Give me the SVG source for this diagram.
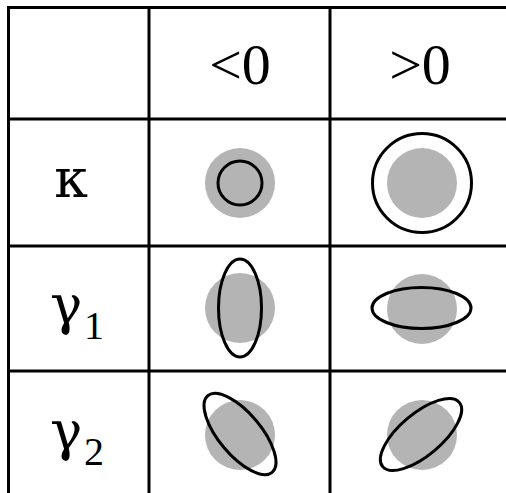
<svg xmlns="http://www.w3.org/2000/svg" width="506" height="493" viewBox="0 0 506 493">
<style>
.grid{stroke:#000;stroke-width:3;fill:none}
.disc{fill:#b4b4b4}
.ring{fill:none;stroke:#000;stroke-width:3}
.lbl{font-family:"Liberation Serif","Times New Roman",serif;fill:#000}
.hdr{font-size:58px;text-anchor:middle}
.grk{font-family:"DejaVu Serif","Liberation Serif",serif;font-size:54px}
.sub{font-family:"Liberation Serif","Times New Roman",serif;font-size:40px}
</style>
<rect width="506" height="493" fill="#fff"/>
<g id="grid">
<line class="grid" x1="7" y1="7.5" x2="506" y2="7.5"/>
<line class="grid" x1="8.5" y1="6" x2="8.5" y2="493"/>
<line class="grid" x1="149" y1="6" x2="149" y2="493"/>
<line class="grid" x1="330" y1="6" x2="330" y2="493"/>
<line class="grid" x1="7" y1="119" x2="506" y2="119"/>
<line class="grid" x1="7" y1="246" x2="506" y2="246"/>
<line class="grid" x1="7" y1="371" x2="506" y2="371"/>
</g>
<g id="header-neg"><text class="lbl hdr" x="240" y="84">&lt;0</text></g>
<g id="header-pos"><text class="lbl hdr" x="420" y="84">&gt;0</text></g>
<g id="label-kappa"><text class="lbl grk" x="71" y="197" text-anchor="middle">κ</text></g>
<g id="label-gamma1"><text class="lbl grk" x="50" y="324">γ<tspan class="sub" x="84" y="339">1</tspan></text></g>
<g id="label-gamma2"><text class="lbl grk" x="50" y="450">γ<tspan class="sub" x="84" y="465">2</tspan></text></g>
<g id="kappa-neg">
<circle class="disc" cx="240" cy="183" r="35"/>
<circle class="ring" cx="240" cy="183" r="22"/>
</g>
<g id="kappa-pos">
<circle class="disc" cx="422" cy="183" r="35"/>
<circle class="ring" cx="422" cy="183" r="49.5"/>
</g>
<g id="gamma1-neg">
<circle class="disc" cx="240" cy="308" r="35"/>
<ellipse class="ring" cx="240" cy="308" rx="21.5" ry="49"/>
</g>
<g id="gamma1-pos">
<circle class="disc" cx="422" cy="309" r="35"/>
<ellipse class="ring" cx="421.5" cy="308" rx="49.5" ry="20.5"/>
</g>
<g id="gamma2-neg">
<circle class="disc" cx="240" cy="435" r="35"/>
<ellipse class="ring" cx="0" cy="0" rx="50" ry="21" transform="translate(240 434) rotate(50)"/>
</g>
<g id="gamma2-pos">
<circle class="disc" cx="422" cy="435" r="35"/>
<ellipse class="ring" cx="0" cy="0" rx="50" ry="21" transform="translate(421 434.5) rotate(-40)"/>
</g>
</svg>
